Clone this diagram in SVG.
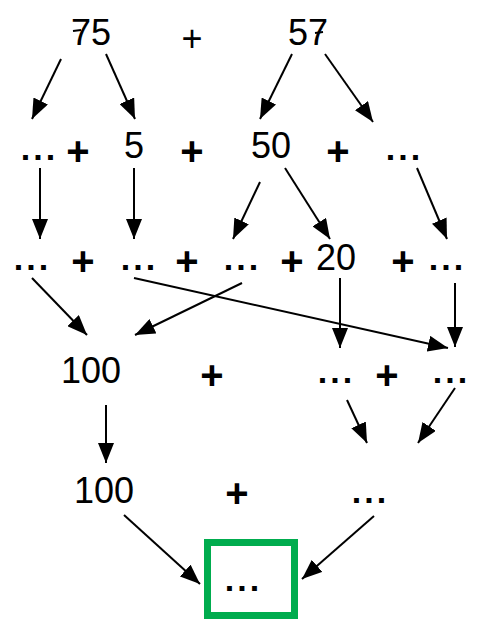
<svg xmlns="http://www.w3.org/2000/svg" width="478" height="623" viewBox="0 0 478 623">
<style>
.num{font-family:"Liberation Sans",Arial,sans-serif;font-size:36px;fill:#000;text-anchor:middle}
.dots{font-family:"Liberation Sans",Arial,sans-serif;font-size:34px;font-weight:bold;letter-spacing:3px;fill:#000;text-anchor:middle}
.plus{font-family:"Liberation Sans",Arial,sans-serif;font-size:40px;font-weight:bold;fill:#000;text-anchor:middle}
.plus1{font-family:"Liberation Sans",Arial,sans-serif;font-size:36px;fill:#000;text-anchor:middle}
.edge{stroke:#000;stroke-width:2;fill:none;marker-end:url(#ah)}
.bar{stroke:#000;stroke-width:2}
</style>
<defs>
<marker id="ah" viewBox="0 0 20 16" refX="20" refY="8" markerWidth="20" markerHeight="16" markerUnits="userSpaceOnUse" orient="auto">
<path d="M0,0 L20,8 L0,16 z" fill="#000"/>
</marker>
</defs>
<rect width="478" height="623" fill="#fff"/>

<g id="row1">
<g id="n75"><text class="num" x="91" y="45">75</text><line class="bar" x1="73" y1="31" x2="81" y2="30"/></g>
<g id="p1"><text class="plus1" x="192" y="51">+</text></g>
<g id="n57"><text class="num" x="308" y="45">57</text><line class="bar" x1="315" y1="33" x2="323" y2="32"/></g>
</g>

<g id="row2">
<g id="r2a"><text class="dots" x="39.5" y="160">...</text></g>
<g id="r2p1"><text class="plus" x="78" y="165">+</text></g>
<g id="r2b"><text class="num" x="134" y="158">5</text></g>
<g id="r2p2"><text class="plus" x="192" y="165">+</text></g>
<g id="r2c"><text class="num" x="271" y="158">50</text></g>
<g id="r2p3"><text class="plus" x="338" y="165">+</text></g>
<g id="r2d"><text class="dots" x="404.5" y="160">...</text></g>
</g>

<g id="row3">
<g id="r3a"><text class="dots" x="32.5" y="270">...</text></g>
<g id="r3p1"><text class="plus" x="83" y="275">+</text></g>
<g id="r3b"><text class="dots" x="139.5" y="270">...</text></g>
<g id="r3p2"><text class="plus" x="187" y="275">+</text></g>
<g id="r3c"><text class="dots" x="242.5" y="270">...</text></g>
<g id="r3p3"><text class="plus" x="292" y="275">+</text></g>
<g id="r3d"><text class="num" x="336" y="270">20</text></g>
<g id="r3p4"><text class="plus" x="403" y="275">+</text></g>
<g id="r3e"><text class="dots" x="447.5" y="270">...</text></g>
</g>

<g id="row4">
<g id="r4a"><text class="num" x="91" y="383">100</text></g>
<g id="r4p1"><text class="plus" x="212" y="389">+</text></g>
<g id="r4b"><text class="dots" x="336.5" y="383">...</text></g>
<g id="r4p2"><text class="plus" x="387" y="389">+</text></g>
<g id="r4c"><text class="dots" x="451.5" y="383">...</text></g>
</g>

<g id="row5">
<g id="r5a"><text class="num" x="104" y="503">100</text></g>
<g id="r5p1"><text class="plus" x="237" y="507">+</text></g>
<g id="r5b"><text class="dots" x="370.5" y="503">...</text></g>
</g>

<g id="result">
<rect x="207.5" y="542.5" width="87" height="73" fill="none" stroke="#00AC4E" stroke-width="7"/>
<text class="dots" x="243.5" y="591">...</text>
</g>

<g id="connectors">
<line class="edge" x1="61" y1="59" x2="32" y2="119"/>
<line class="edge" x1="106" y1="54" x2="135" y2="119"/>
<line class="edge" x1="292" y1="54" x2="260" y2="119"/>
<line class="edge" x1="325" y1="54" x2="373" y2="122"/>

<line class="edge" x1="40" y1="168" x2="40" y2="239"/>
<line class="edge" x1="134" y1="168" x2="134" y2="239"/>
<line class="edge" x1="260" y1="182" x2="233" y2="239"/>
<line class="edge" x1="285" y1="168" x2="330" y2="239"/>
<line class="edge" x1="417" y1="168" x2="447" y2="239"/>

<line class="edge" x1="32" y1="278" x2="87" y2="335"/>
<line class="edge" x1="134" y1="278" x2="448" y2="348"/>
<line class="edge" x1="242" y1="283" x2="135" y2="335"/>
<line class="edge" x1="340" y1="278" x2="340" y2="348"/>
<line class="edge" x1="455" y1="283" x2="455" y2="347"/>

<line class="edge" x1="106" y1="405" x2="106" y2="463"/>
<line class="edge" x1="347" y1="400" x2="367" y2="443"/>
<line class="edge" x1="455" y1="388" x2="418" y2="443"/>

<line class="edge" x1="124" y1="515" x2="200" y2="584"/>
<line class="edge" x1="374" y1="516" x2="302" y2="579"/>
</g>
</svg>
